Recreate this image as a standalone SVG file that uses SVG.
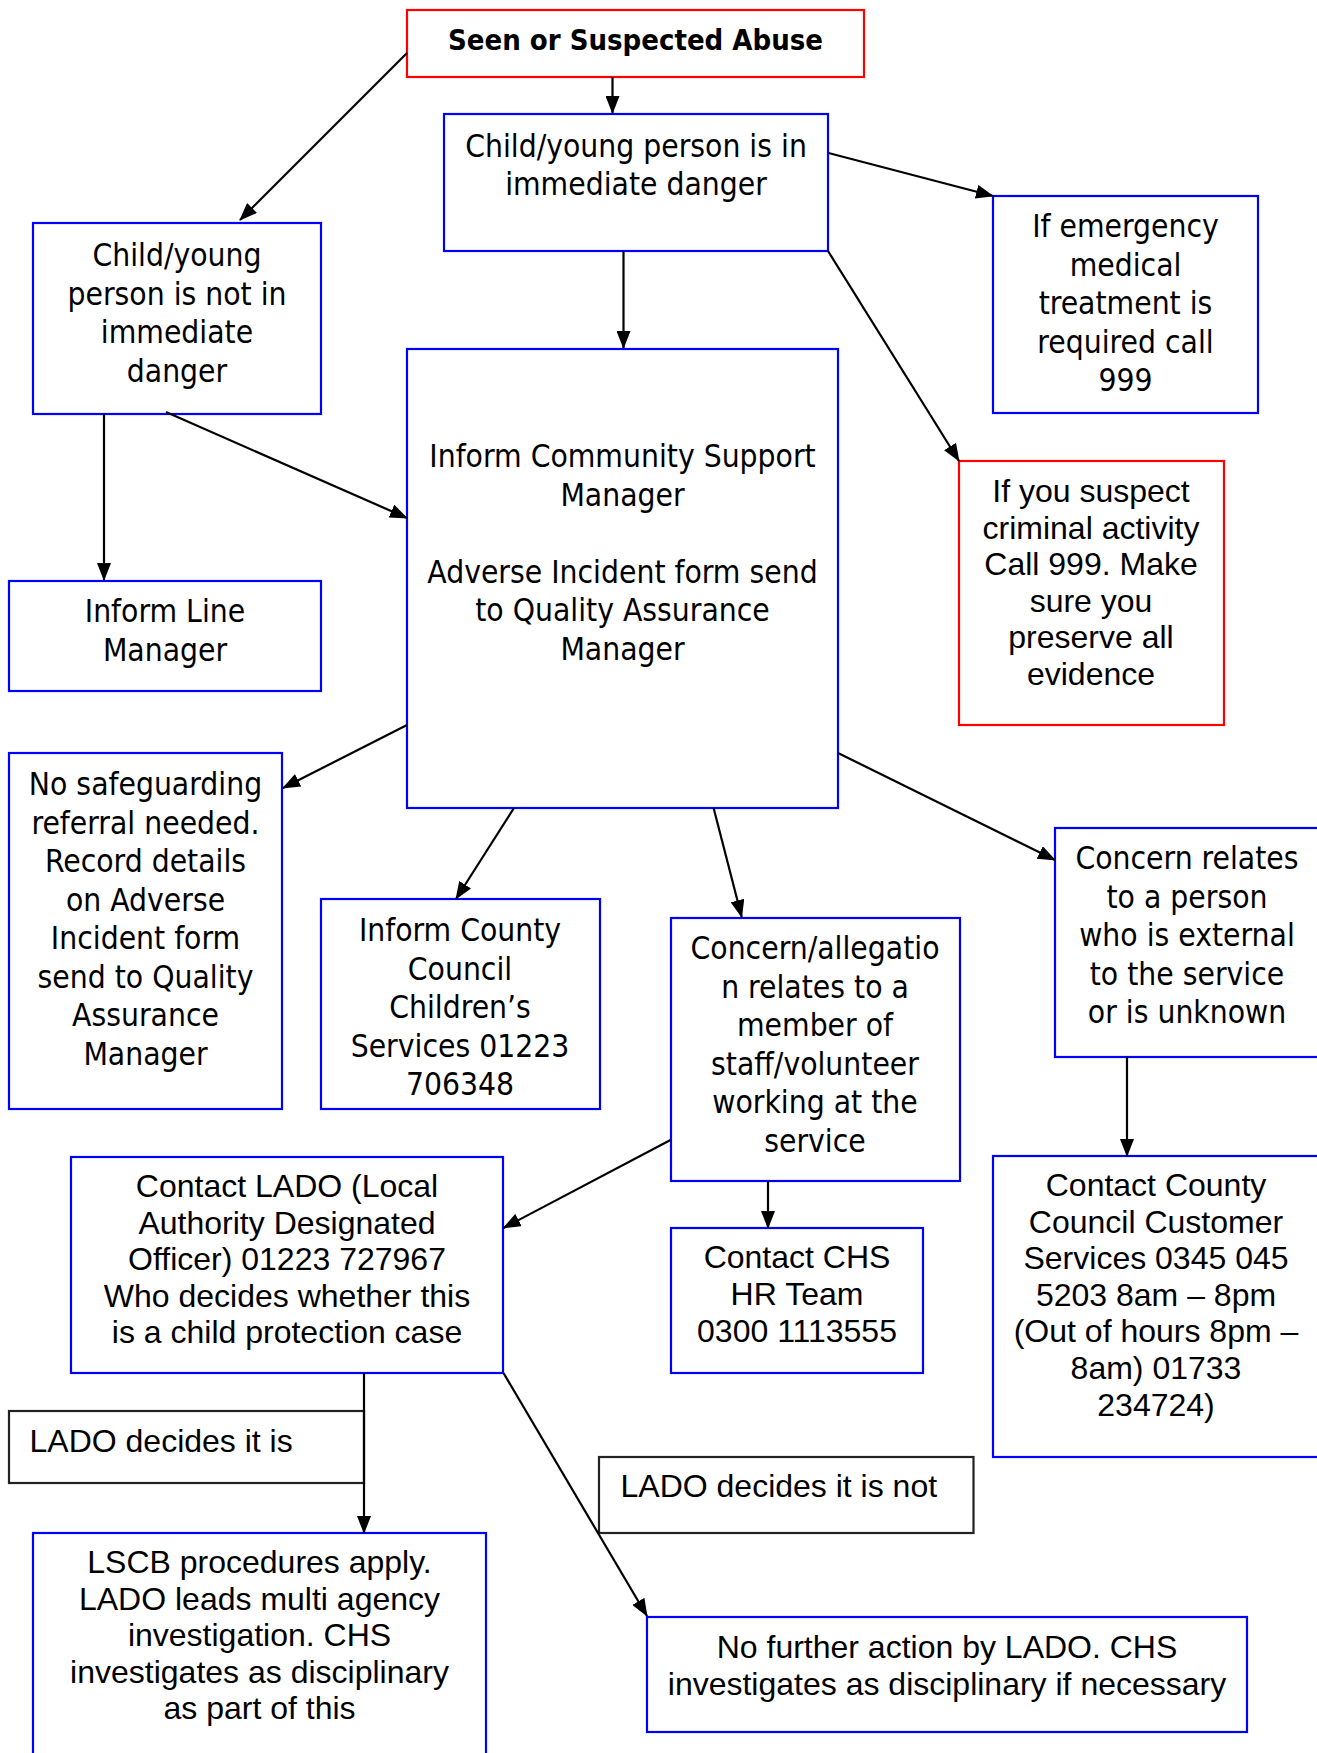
<svg xmlns="http://www.w3.org/2000/svg" width="1317" height="1753" viewBox="0 0 1317 1753">
<style>
.b{fill:#fff;stroke:#0000ff;stroke-width:2.2}
.r{fill:#fff;stroke:#ff0000;stroke-width:2.2}
.k{fill:#fff;stroke:#222;stroke-width:2.2}
.t{font-family:"DejaVu Sans Condensed","DejaVu Sans",sans-serif;font-stretch:condensed;font-size:31.5px;fill:#000;text-anchor:middle}
.h{font-family:"DejaVu Sans Condensed","DejaVu Sans",sans-serif;font-stretch:condensed;font-weight:bold;font-size:29px;fill:#000;text-anchor:middle}
.a{font-family:"Liberation Sans",Arial,sans-serif;font-size:32px;fill:#000;text-anchor:middle}
.al{font-family:"Liberation Sans",Arial,sans-serif;font-size:32px;fill:#000}
.c line{stroke:#000;stroke-width:2.2;marker-end:url(#ah)}
</style>
<defs>
<marker id="ah" markerUnits="userSpaceOnUse" markerWidth="18" markerHeight="14" refX="17" refY="7" orient="auto">
<path d="M0,0 L18,7 L0,14 z" fill="#000"/>
</marker>
</defs>
<rect width="1317" height="1753" fill="#fff"/>

<g id="n-top"><rect class="r" x="407" y="10" width="457" height="67"/><text class="h" x="635.5" y="50">Seen or Suspected Abuse</text></g>

<g id="n-danger"><rect class="b" x="444" y="114" width="384" height="137"/>
<text class="t" x="636" y="157">Child/young person is in</text><text class="t" x="636" y="195">immediate danger</text></g>

<g id="n-emergency"><rect class="b" x="993" y="196" width="265" height="217"/>
<text class="t" x="1125.5" y="237">If emergency</text><text class="t" x="1125.5" y="275.5">medical</text><text class="t" x="1125.5" y="314">treatment is</text><text class="t" x="1125.5" y="352.5">required call</text><text class="t" x="1125.5" y="391">999</text></g>

<g id="n-notdanger"><rect class="b" x="33" y="223" width="288" height="191"/>
<text class="t" x="177" y="266">Child/young</text><text class="t" x="177" y="304.5">person is not in</text><text class="t" x="177" y="343">immediate</text><text class="t" x="177" y="381.5">danger</text></g>

<g id="n-inform"><rect class="b" x="407" y="349" width="431" height="459"/>
<text class="t" x="622.5" y="467">Inform Community Support</text><text class="t" x="622.5" y="505.5">Manager</text>
<text class="t" x="622.5" y="582.5">Adverse Incident form send</text><text class="t" x="622.5" y="621">to Quality Assurance</text><text class="t" x="622.5" y="659.5">Manager</text></g>

<g id="n-line"><rect class="b" x="9" y="581" width="312" height="110"/>
<text class="t" x="165" y="622">Inform Line</text><text class="t" x="165" y="660.5">Manager</text></g>

<g id="n-criminal"><rect class="r" x="959" y="461" width="265" height="264"/>
<text class="a" x="1091" y="502">If you suspect</text><text class="a" x="1091" y="538.5">criminal activity</text><text class="a" x="1091" y="575">Call 999. Make</text><text class="a" x="1091" y="611.5">sure you</text><text class="a" x="1091" y="648">preserve all</text><text class="a" x="1091" y="684.5">evidence</text></g>

<g id="n-nosafe"><rect class="b" x="9" y="753" width="273" height="356"/>
<text class="t" x="145.5" y="795">No safeguarding</text><text class="t" x="145.5" y="833.5">referral needed.</text><text class="t" x="145.5" y="872">Record details</text><text class="t" x="145.5" y="910.5">on Adverse</text><text class="t" x="145.5" y="949">Incident form</text><text class="t" x="145.5" y="987.5">send to Quality</text><text class="t" x="145.5" y="1026">Assurance</text><text class="t" x="145.5" y="1064.5">Manager</text></g>

<g id="n-county"><rect class="b" x="321" y="899" width="279" height="210"/>
<text class="t" x="460" y="941">Inform County</text><text class="t" x="460" y="979.5">Council</text><text class="t" x="460" y="1018">Children’s</text><text class="t" x="460" y="1056.5">Services 01223</text><text class="t" x="460" y="1095">706348</text></g>

<g id="n-staff"><rect class="b" x="671" y="918" width="289" height="263"/>
<text class="t" x="815" y="959">Concern/allegatio</text><text class="t" x="815" y="997.5">n relates to a</text><text class="t" x="815" y="1036">member of</text><text class="t" x="815" y="1074.5">staff/volunteer</text><text class="t" x="815" y="1113">working at the</text><text class="t" x="815" y="1151.5">service</text></g>

<g id="n-external"><rect class="b" x="1055" y="828" width="270" height="229"/>
<text class="t" x="1187" y="869">Concern relates</text><text class="t" x="1187" y="907.5">to a person</text><text class="t" x="1187" y="946">who is external</text><text class="t" x="1187" y="984.5">to the service</text><text class="t" x="1187" y="1023">or is unknown</text></g>

<g id="n-lado"><rect class="b" x="71" y="1157" width="432" height="216"/>
<text class="a" x="287" y="1197">Contact LADO (Local</text><text class="a" x="287" y="1233.5">Authority Designated</text><text class="a" x="287" y="1270">Officer) 01223 727967</text><text class="a" x="287" y="1306.5">Who decides whether this</text><text class="a" x="287" y="1343">is a child protection case</text></g>

<g id="n-chs"><rect class="b" x="671" y="1228" width="252" height="145"/>
<text class="a" x="797" y="1268">Contact CHS</text><text class="a" x="797" y="1305">HR Team</text><text class="a" x="797" y="1342">0300 1113555</text></g>

<g id="n-customer"><rect class="b" x="993" y="1156" width="332" height="301"/>
<text class="a" x="1156" y="1196">Contact County</text><text class="a" x="1156" y="1232.6">Council Customer</text><text class="a" x="1156" y="1269.2">Services 0345 045</text><text class="a" x="1156" y="1305.8">5203 8am – 8pm</text><text class="a" x="1156" y="1342.4">(Out of hours 8pm –</text><text class="a" x="1156" y="1379">8am) 01733</text><text class="a" x="1156" y="1415.6">234724)</text></g>

<g id="n-decides-is"><rect class="k" x="9" y="1411" width="355" height="72"/>
<text class="al" x="29.5" y="1452">LADO decides it is</text></g>

<g id="n-decides-not"><rect class="k" x="599" y="1457" width="374.5" height="76"/>
<text class="al" x="620.5" y="1497">LADO decides it is not</text></g>

<g id="n-lscb"><rect class="b" x="33" y="1533" width="453" height="240"/>
<text class="a" x="259.5" y="1573">LSCB procedures apply.</text><text class="a" x="259.5" y="1609.6">LADO leads multi agency</text><text class="a" x="259.5" y="1646.2">investigation. CHS</text><text class="a" x="259.5" y="1682.8">investigates as disciplinary</text><text class="a" x="259.5" y="1719.4">as part of this</text></g>

<g id="n-nfa"><rect class="b" x="647" y="1617" width="600" height="115"/>
<text class="a" x="947" y="1658">No further action by LADO. CHS</text><text class="a" x="947" y="1695">investigates as disciplinary if necessary</text></g>

<g id="connectors" class="c">
<line x1="407" y1="53" x2="240" y2="220"/>
<line x1="612.5" y1="77" x2="612.5" y2="113"/>
<line x1="623.5" y1="251" x2="623.5" y2="348"/>
<line x1="828.5" y1="153" x2="993" y2="196"/>
<line x1="828" y1="251" x2="959" y2="461"/>
<line x1="104" y1="414" x2="104" y2="580"/>
<line x1="166" y1="412" x2="407" y2="518"/>
<line x1="407" y1="725" x2="283" y2="788"/>
<line x1="514" y1="808" x2="456" y2="899"/>
<line x1="713.6" y1="808" x2="741.7" y2="917"/>
<line x1="838" y1="753" x2="1055" y2="860"/>
<line x1="670.5" y1="1140" x2="503.5" y2="1228"/>
<line x1="768" y1="1181" x2="768" y2="1228"/>
<line x1="1127" y1="1057" x2="1127" y2="1156"/>
<line x1="364" y1="1373" x2="364" y2="1533"/>
<line x1="503.5" y1="1373" x2="647" y2="1616"/>
</g>
</svg>
